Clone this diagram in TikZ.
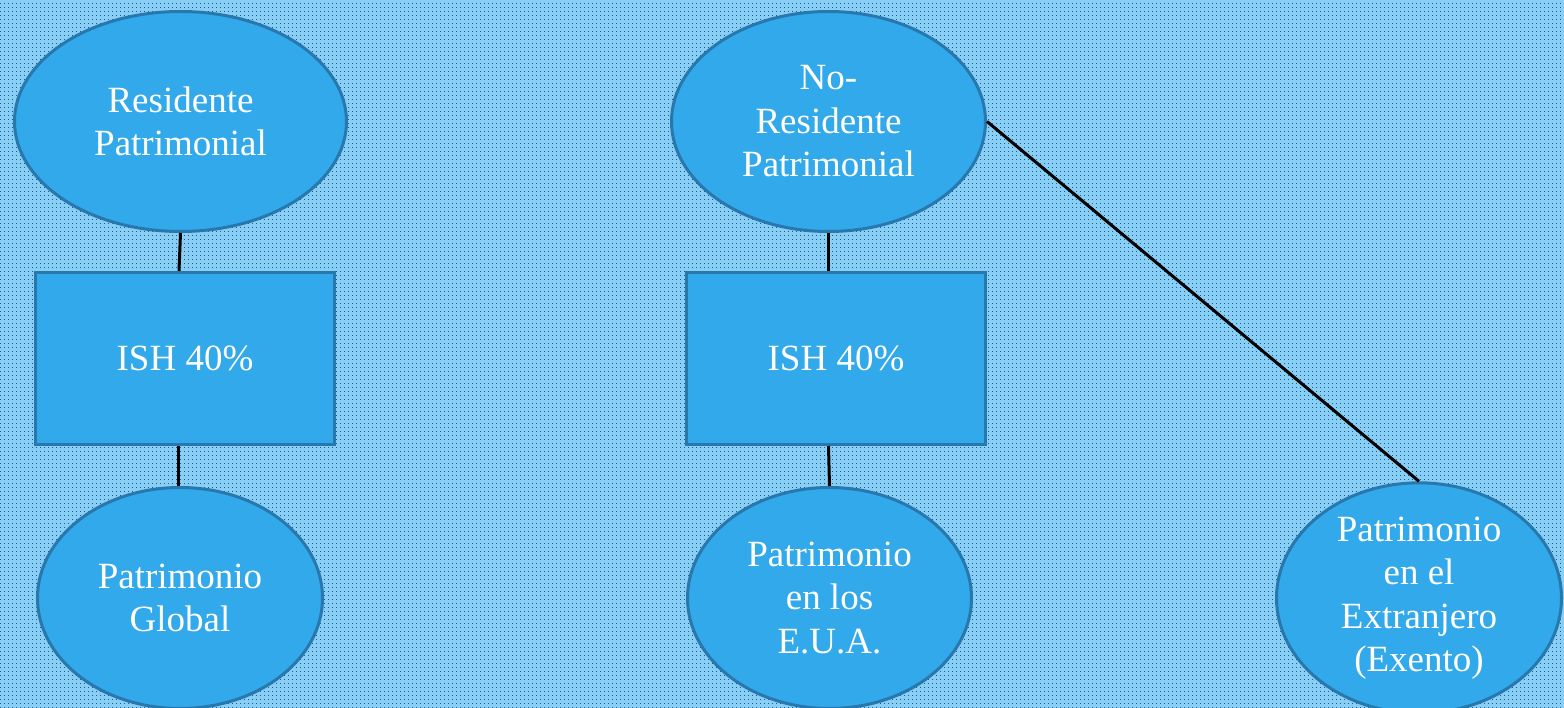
\documentclass[tikz,border=0pt]{standalone}
\usepackage{fontspec}
\setmainfont{Liberation Serif}
\newfontfamily\diagfont{Liberation Serif}
\usetikzlibrary{shapes.geometric,patterns}
\definecolor{bgblue}{HTML}{88CEF5}
\definecolor{dotblue}{HTML}{1A5A8A}
\definecolor{shapefill}{HTML}{31A9EA}
\definecolor{shapeedge}{HTML}{2878AE}
\pgfdeclarepatternformonly{mydots}{\pgfqpoint{-1pt}{-1pt}}{\pgfqpoint{5pt}{5pt}}{\pgfqpoint{4pt}{4pt}}{\pgfpathrectangle{\pgfqpoint{0pt}{0pt}}{\pgfqpoint{1.3pt}{1.3pt}}\pgfusepath{fill}}
\tikzset{
  base/.style={fill=shapefill, draw=shapeedge, line width=3pt, text=white, align=center,
    inner sep=0pt, font=\diagfont\fontsize{37}{43.5}\selectfont},
  oval/.style={base, ellipse},
  box/.style={base, rectangle},
  conn/.style={draw=black, line width=3pt}
}
\begin{document}
\begin{tikzpicture}[x=1pt,y=-1pt]
\useasboundingbox (0,0) rectangle (1564,708);
\clip (0,0) rectangle (1564,708);
\fill[bgblue] (0,0) rectangle (1564,708);
\fill[pattern=mydots, pattern color=dotblue] (0,0) rectangle (1564,708);

\node[oval, minimum width=332pt, minimum height=220pt] (e1) at (180.5,121.5) {Residente\\Patrimonial};
\node[box, minimum width=299pt, minimum height=172pt] (r1) at (185,358.5) {ISH 40\%};
\node[oval, minimum width=285pt, minimum height=221pt] (e2) at (180,598) {Patrimonio\\Global};

\node[oval, minimum width=314pt, minimum height=220pt] (e3) at (828.5,121.5) {No-\\Residente\\Patrimonial};
\node[box, minimum width=299pt, minimum height=172pt] (r2) at (836,358.5) {ISH 40\%};
\node[oval, minimum width=284pt, minimum height=221pt] (e4) at (829.5,598) {Patrimonio\\en los\\E.U.A.};

\node[oval, minimum width=285pt, minimum height=221pt] (e5) at (1419,598) {Patrimonio\\en el\\Extranjero\\(Exento)};

\draw[conn] (e1.south) -- ([xshift=-1.5pt]e1.south |- r1.north);
\draw[conn] ([xshift=-2.5pt]e1.south |- r1.south) -- ([xshift=-2.5pt]e1.south |- e2.north);
\draw[conn] (e3.south) -- (e3.south |- r2.north);
\draw[conn] (e3.south |- r2.south) -- (e4.north);
\draw[conn] (e3.east) -- (e5.north);
\end{tikzpicture}
\end{document}
